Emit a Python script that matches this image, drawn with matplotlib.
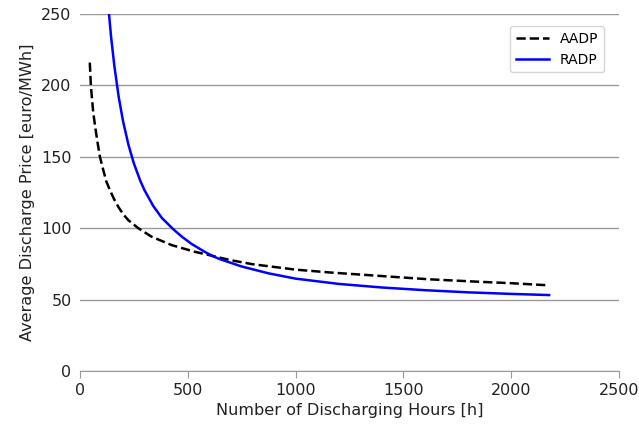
import matplotlib
matplotlib.use("Agg")
import matplotlib.pyplot as plt

aadp_x = [46, 51, 56, 62, 71, 82, 93, 108, 122, 139, 158, 178, 200, 224, 271, 332, 425, 533, 618, 700, 800, 1000, 1160, 1400, 1623, 1850, 2000, 2175]
aadp_y = [216, 200, 191, 181, 171, 160, 150, 141, 133, 126.8, 120.5, 115, 110, 105.7, 100, 94.1, 88.2, 83.5, 80.5, 77.6, 74.8, 71, 69, 66.5, 64.2, 62.5, 61.5, 60]

radp_x = [135, 145, 160, 180, 200, 225, 250, 280, 300, 340, 380, 433, 475, 518, 575, 618, 650, 750, 875, 1000, 1200, 1400, 1600, 1800, 2000, 2175]
radp_y = [250, 233.5, 213.4, 191.9, 175, 158.5, 145.5, 133.2, 126.5, 115.6, 107.2, 99.3, 93.8, 89, 83.8, 80.3, 78.3, 73.2, 68.4, 64.7, 61, 58.5, 56.6, 55.1, 54, 53.2]

xticks = [0, 500, 1000, 1500, 2000, 2500]
yticks = [0, 50, 100, 150, 200, 250]

fig = plt.figure(figsize=(6.39, 4.25), dpi=100)
ax = fig.add_axes([0.125, 0.127, 0.844, 0.84])

ax.plot(aadp_x, aadp_y, color="black", linestyle="--", linewidth=1.8, label="AADP")
ax.plot(radp_x, radp_y, color="blue", linestyle="-", linewidth=1.8, label="RADP")

ax.set_xlim(0, 2500)
ax.set_ylim(0, 250)
ax.set_xticks(xticks)
ax.set_yticks(yticks)
ax.yaxis.grid(True, color="#999999", linewidth=1.0)
ax.set_axisbelow(True)
for s in ["left", "top", "right"]:
    ax.spines[s].set_visible(False)
ax.spines["bottom"].set_color("#999999")
ax.tick_params(axis="x", colors="#999999", labelcolor="#222222", labelsize=11.5, length=5)
ax.tick_params(axis="y", length=0, labelcolor="#222222", labelsize=11.5, pad=6)

ax.set_xlabel("Number of Discharging Hours [h]", fontsize=11.6, color="#222222")
ax.set_ylabel("Average Discharge Price [euro/MWh]", fontsize=11.6, color="#222222")

leg = ax.legend(loc="upper right", fontsize=10, frameon=True, fancybox=True,
                bbox_to_anchor=(0.985, 0.985), handlelength=2.4)
leg.get_frame().set_edgecolor("#cccccc")

fig.savefig("out.png", dpi=100)
